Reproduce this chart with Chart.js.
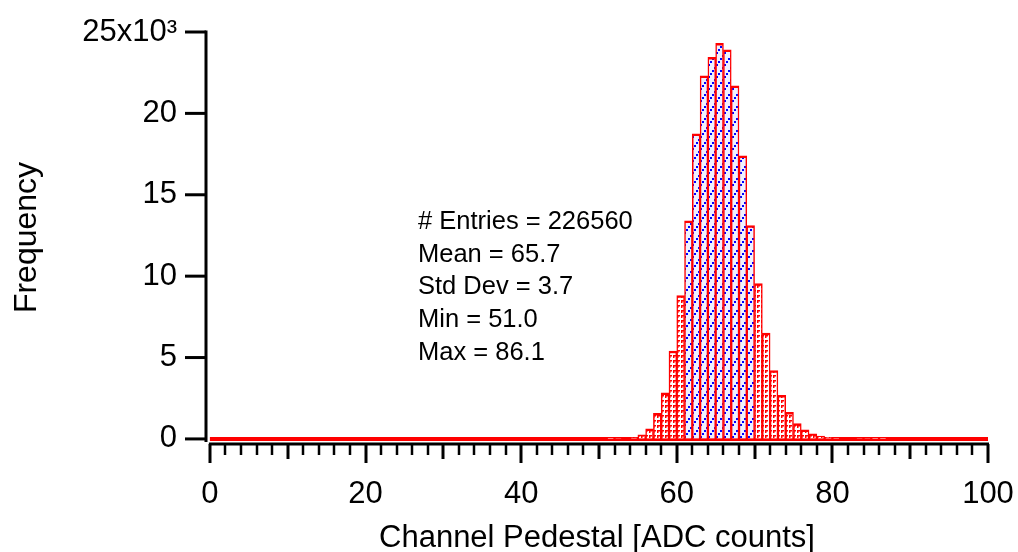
<!DOCTYPE html>
<html>
<head>
<meta charset="utf-8">
<script src="https://cdn.jsdelivr.net/npm/chart.js@4.4.1/dist/chart.umd.min.js"></script>
<style>
  html, body { margin: 0; padding: 0; background: #fff; }
</style>
</head>
<body>
<canvas id="chart" width="1018" height="552"></canvas>
<script>
// histogram: 1 ADC count per bin, lower edges 0..99
const binLow = [];
for (let i = 0; i < 100; i++) binLow.push(i);

const counts = [
  0, 0, 0, 0, 0, 0, 0, 0, 0, 0,
  0, 0, 0, 0, 0, 0, 0, 0, 0, 0,
  0, 0, 0, 0, 0, 0, 0, 0, 0, 0,
  0, 0, 0, 0, 0, 0, 0, 0, 0, 0,
  0, 0, 0, 0, 0, 0, 0, 0, 0, 0,
  0, 3, 10, 20, 70, 250, 620, 1580, 2830, 5400,
  8800, 13400, 18750, 22300, 23450, 24300, 23900, 21700, 17400, 13100,
  9550, 6500, 4200, 2680, 1630, 950, 560, 320, 180, 90,
  40, 30, 20, 10, 5, 3, 1, 0, 0, 0,
  0, 0, 0, 0, 0, 0, 0, 0, 0, 0
];

// bins inside mean +/- 1 sigma get the blue hatch
const sigmaBins = [61, 69];

const xTicks = [0, 20, 40, 60, 80, 100];
const yTicks = [0, 5000, 10000, 15000, 20000, 25000];

const statsLines = [
  "# Entries = 226560",
  "Mean = 65.7",
  "Std Dev = 3.7",
  "Min = 51.0",
  "Max = 86.1"
];

const FONT = "'Liberation Sans', Arial, Helvetica, sans-serif";

function makePattern(kind) {
  const c = document.createElement("canvas");
  const g = c.getContext("2d");
  if (kind === "red") {
    c.width = 4; c.height = 5;
    g.fillStyle = "#fff";
    g.fillRect(0, 0, 4, 5);
    g.fillStyle = "#ff0000";
    g.fillRect(1, 0, 1.5, 3);
    g.fillRect(1, 0, 3, 1.5);
  } else {
    c.width = 8; c.height = 12;
    g.fillStyle = "#eef0ff";
    g.fillRect(0, 0, 8, 12);
    g.fillStyle = "#0000ff";
    [[0, 10], [2, 7], [4, 4], [6, 1]].forEach(p => g.fillRect(p[0], p[1], 2, 2));
  }
  return g.createPattern(c, "repeat");
}

const ctx = document.getElementById("chart").getContext("2d");
const redHatch = makePattern("red");
const blueHatch = makePattern("blue");

// axes, minor ticks and the stats box
const frame = {
  id: "frame",
  afterDraw(chart) {
    const { ctx, chartArea: a, scales: { x, y } } = chart;
    ctx.save();
    ctx.strokeStyle = "#000";
    ctx.lineCap = "butt";

    // y axis
    ctx.lineWidth = 3;
    ctx.beginPath();
    ctx.moveTo(a.left, y.getPixelForValue(25000) - 1.5);
    ctx.lineTo(a.left, a.bottom - 1);
    ctx.stroke();
    yTicks.forEach(v => {
      const py = y.getPixelForValue(v);
      ctx.beginPath();
      ctx.moveTo(a.left - 21, py);
      ctx.lineTo(a.left, py);
      ctx.stroke();
    });

    // x axis
    const ay = a.bottom + 1;
    ctx.beginPath();
    ctx.moveTo(x.getPixelForValue(0) - 1, ay);
    ctx.lineTo(x.getPixelForValue(100) + 1, ay);
    ctx.stroke();
    for (let v = 0; v <= 100; v += 2) {
      const px = Math.round(x.getPixelForValue(v));
      let len = 11, w = 2.5;
      if (v % 20 === 0) { len = 19; w = 3; }
      else if (v % 10 === 0) { len = 15; w = 3; }
      ctx.lineWidth = w;
      ctx.beginPath();
      ctx.moveTo(px, ay);
      ctx.lineTo(px, ay + len);
      ctx.stroke();
    }

    // stats text
    ctx.fillStyle = "#000";
    ctx.font = "25.5px " + FONT;
    ctx.textAlign = "left";
    ctx.textBaseline = "alphabetic";
    statsLines.forEach((t, i) => ctx.fillText(t, 418, 229 + i * 32.7));
    ctx.restore();
  }
};

new Chart(ctx, {
  type: "bar",
  data: {
    datasets: [
      {
        type: "line",
        data: [{ x: 0, y: 0 }, { x: 100, y: 0 }],
        borderColor: "#ff0000",
        borderWidth: 4,
        pointRadius: 0,
        order: 2
      },
      {
        data: binLow.map((b, i) => ({ x: b + 0.5, y: counts[i] })),
        backgroundColor: c => {
          const b = Math.floor(c.raw ? c.raw.x : 0);
          return (b >= sigmaBins[0] && b <= sigmaBins[1]) ? blueHatch : redHatch;
        },
        borderColor: "#ff0000",
        borderWidth: { left: 1.5, right: 1.5, top: 2.5, bottom: 0 },
        borderSkipped: "start",
        categoryPercentage: 1,
        barPercentage: 1,
        order: 1
      }
    ]
  },
  options: {
    responsive: false,
    animation: false,
    layout: { autoPadding: false, padding: { top: 32, right: 30, left: 0, bottom: 0 } },
    plugins: { legend: { display: false }, tooltip: { enabled: false } },
    scales: {
      x: {
        type: "linear",
        offset: false,
        min: -0.5,
        max: 100,
        afterBuildTicks: s => { s.ticks = xTicks.map(v => ({ value: v })); },
        afterFit: s => { s.height = 109; },
        grid: { offset: false, drawOnChartArea: false, drawTicks: true, tickLength: 30, color: "transparent" },
        border: { display: false },
        ticks: {
          autoSkip: false,
          maxRotation: 0,
          padding: 3,
          color: "#000",
          font: { family: FONT, size: 31 }
        },
        title: {
          display: true,
          text: "Channel Pedestal [ADC counts]",
          color: "#000",
          font: { family: FONT, size: 31 },
          padding: { top: 0, bottom: -5 }
        }
      },
      y: {
        min: -250,
        max: 25000,
        afterBuildTicks: s => { s.ticks = yTicks.map(v => ({ value: v })); },
        afterFit: s => { s.width = 206; },
        grid: { drawOnChartArea: false, drawTicks: true, tickLength: 20, color: "transparent" },
        border: { display: false },
        ticks: {
          padding: 9,
          color: "#000",
          font: { family: FONT, size: 31 },
          callback: v => v === 25000 ? "25x10\u00b3" : String(v / 1000)
        },
        title: {
          display: true,
          text: "Frequency",
          color: "#000",
          font: { family: FONT, size: 32 },
          padding: { top: 8, bottom: 0 }
        }
      }
    }
  },
  plugins: [frame]
});
</script>
</body>
</html>
